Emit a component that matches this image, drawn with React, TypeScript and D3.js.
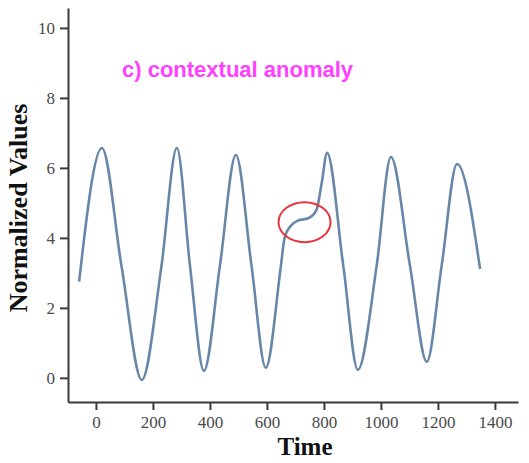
import * as d3 from 'd3';
import React from 'react';
import { useEffect, useRef } from 'react';

// readings taken off the curve (time, normalized value)
const timeValues: number[] = [
    -59, 21, 90, 161, 230, 284, 330, 379, 435, 491, 546, 596, 649, 662, 681, 710, 745,
    774, 792, 811, 868, 919, 985, 1035, 1102, 1161, 1213, 1267, 1348,
];
const normValues: number[] = [
    2.75, 6.57, 3.18, -0.06, 3.2, 6.57, 3.2, 0.2, 3.2, 6.37, 3.2, 0.29, 3.2, 4.0, 4.32, 4.5, 4.56,
    4.8, 5.56, 6.43, 3.2, 0.23, 3.2, 6.31, 3.2, 0.46, 3.2, 6.11, 3.11,
];
const xTicks: number[] = [0, 200, 400, 600, 800, 1000, 1200, 1400];
const yTicks: number[] = [0, 2, 4, 6, 8, 10];
const anomalyAt = { time: 732, value: 4.45 };
const title = 'c) contextual anomaly';

export default function App() {
    const ref = useRef<any>();

    useEffect(() => {
        const width = 529;
        const height = 463;
        const svg = d3.select<any, any>(ref.current)
            .attr('width', width)
            .attr('height', height);
        svg.selectAll('*').remove();

        const xScale = d3.scaleLinear().domain([-98, 1481]).range([68, 518]);
        const yScale = d3.scaleLinear().domain([-0.69, 10.57]).range([402, 8]);

        const serif = '"Liberation Serif", "Times New Roman", serif';

        //x axis
        const xAxis = d3.axisBottom(xScale)
            .tickValues(xTicks)
            .tickSize(8)
            .tickSizeOuter(0)
            .tickPadding(6)
            .tickFormat((v: any) => `${v}`);
        const x = svg.append('g')
            .attr('transform', `translate(0, ${yScale.range()[0]})`)
            .call(xAxis);

        //y axis
        const yAxis = d3.axisLeft(yScale)
            .tickValues(yTicks)
            .tickSize(8)
            .tickSizeOuter(0)
            .tickPadding(5)
            .tickFormat((v: any) => `${v}`);
        const y = svg.append('g')
            .attr('transform', `translate(${xScale.range()[0]}, 0)`)
            .call(yAxis);

        [x, y].forEach((g) => {
            g.select('.domain').attr('stroke', '#3a3a3a').attr('stroke-width', 2);
            g.selectAll('.tick line').attr('stroke', '#3a3a3a').attr('stroke-width', 2);
            g.selectAll('.tick text')
                .attr('fill', '#4a4a4a')
                .style('font-family', serif)
                .style('font-size', '17px');
        });

        //series
        const points = timeValues.map((t, i) => [t, normValues[i]]);
        const line = d3.line()
            .x((d: any) => xScale(d[0]))
            .y((d: any) => yScale(d[1]))
            .curve(d3.curveMonotoneX);

        svg.append('path')
            .datum(points)
            .attr('d', (d: any) => line(d))
            .attr('fill', 'none')
            .attr('stroke', '#6887a8')
            .attr('stroke-width', 2.6)
            .attr('stroke-linejoin', 'round');

        //anomaly marker
        svg.append('ellipse')
            .attr('cx', xScale(anomalyAt.time))
            .attr('cy', yScale(anomalyAt.value))
            .attr('rx', 26)
            .attr('ry', 20)
            .attr('fill', 'none')
            .attr('stroke', '#e8333d')
            .attr('stroke-width', 2);

        //labels
        svg.append('text')
            .attr('x', 122)
            .attr('y', 77)
            .attr('fill', '#ff40ff')
            .style('font-family', '"Liberation Sans", Arial, sans-serif')
            .style('font-weight', 'bold')
            .style('font-size', '22px')
            .text(title);

        svg.append('text')
            .attr('x', 305)
            .attr('y', 455)
            .attr('text-anchor', 'middle')
            .attr('fill', '#111')
            .style('font-family', serif)
            .style('font-weight', 'bold')
            .style('font-size', '25px')
            .text('Time');

        svg.append('text')
            .attr('transform', 'translate(27, 208) rotate(-90)')
            .attr('text-anchor', 'middle')
            .attr('fill', '#111')
            .style('font-family', serif)
            .style('font-weight', 'bold')
            .style('font-size', '26px')
            .text('Normalized Values');
    }, []);

    return (
        <React.Fragment>
            <svg ref={ref} style={{ position: 'absolute', left: 0, top: 0 }}></svg>
        </React.Fragment>
    );
}
